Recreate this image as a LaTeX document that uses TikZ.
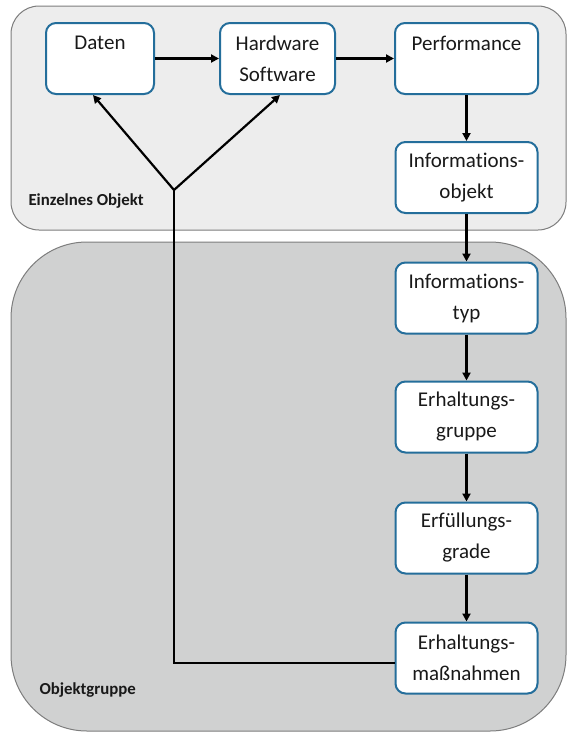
\documentclass[tikz,border=0pt]{standalone}
\usepackage{fontspec}
\setmainfont{Carlito}[Ligatures=NoCommon]
\usetikzlibrary{arrows.meta}
\definecolor{panelA}{RGB}{237,237,237}
\definecolor{panelB}{RGB}{208,209,209}
\definecolor{panelEdge}{RGB}{125,125,125}
\definecolor{boxEdge}{RGB}{36,110,155}
\definecolor{txt}{RGB}{25,25,25}
\begin{document}
\begin{tikzpicture}[x=1pt,y=-1pt,
  stepbox/.style={draw=boxEdge, line width=2pt, fill=white, rounded corners=10pt,
    minimum width=142pt, minimum height=71pt, align=center, text=txt,
    font=\fontsize{21}{31}\selectfont, inner sep=0pt},
  flow/.style={line width=2.2pt, -{Triangle[length=8pt,width=8pt]}},
  plain/.style={line width=2.2pt},
  panel/.style={draw=panelEdge, line width=1pt},
  grouplabel/.style={font=\bfseries\fontsize{16.8}{19}\selectfont, anchor=west, text=txt}]
\useasboundingbox (0,0) rectangle (567,732);
\begin{scope}
\clip (0,0) rectangle (567,732);
\draw[panel, fill=panelA, rounded corners=28pt] (11,6) rectangle (566,230);
\draw[panel, fill=panelB, rounded corners=76pt] (11,242) rectangle (566,731);
\end{scope}
\node[grouplabel] (lblA) at (25,201) {Einzelnes Objekt};
\node[grouplabel] (lblB) at (36,690) {Objektgruppe};

\node[stepbox, minimum width=108pt] (daten) at (100,58.5) {Daten\\\mbox{}};
\node[stepbox, minimum width=115pt] (hw) at (277.5,58.5) {Hardware\\Software};
\node[stepbox, minimum width=143pt] (perf) at (466.5,58.5) {Performance\\\mbox{}};
\node[stepbox] (io) at (466.5,177.5) {Informations-\\objekt};
\node[stepbox] (it) at (466.5,298) {Informations-\\typ};
\node[stepbox] (eg) at (466.5,417) {Erhaltungs-\\gruppe};
\node[stepbox] (ef) at (466.5,538) {Erfüllungs-\\grade};
\node[stepbox] (em) at (466.5,658) {Erhaltungs-\\maßnahmen};

\draw[flow] (daten.east) -- (hw.west);
\draw[flow] (hw.east) -- (perf.west);
\draw[flow] (perf.south) -- (io.north);
\draw[flow] (io.south) -- (it.north);
\draw[flow] (it.south) -- (eg.north);
\draw[flow] (eg.south) -- (ef.north);
\draw[flow] (ef.south) -- (em.north);

\coordinate (j) at (174,190);
\draw[plain] ([yshift=-5pt]em.west) -| (j);
\draw[flow] (j) -- ([xshift=-7pt]daten.south);
\draw[flow] (j) -- ([xshift=2.5pt]hw.south);
\end{tikzpicture}
\end{document}
